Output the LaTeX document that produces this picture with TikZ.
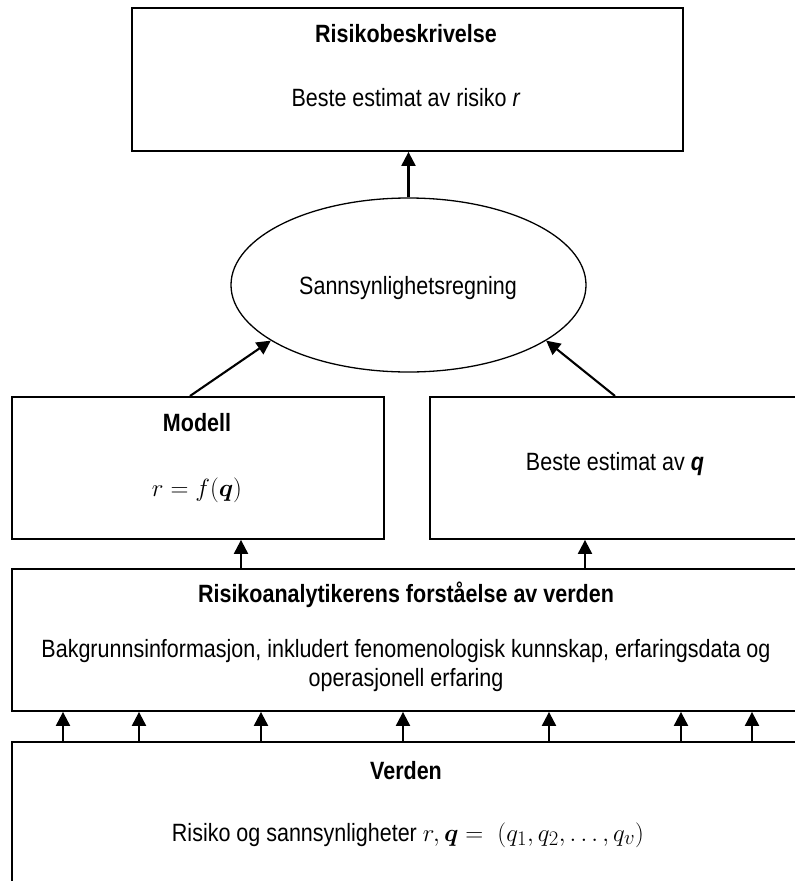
\documentclass[tikz,border=0pt]{standalone}
\usepackage{amsmath}
\usepackage[no-math]{fontspec}
\setmainfont{Liberation Sans}[FakeStretch=0.86]
\usetikzlibrary{arrows.meta,shapes.geometric}
\begin{document}
\begin{tikzpicture}[x=1pt,y=-1pt,
  box/.style={draw, line width=1.9pt, inner sep=0pt, anchor=north west},
  arr/.style={line width=2.1pt, -{Triangle[width=14pt,length=14pt]}},
  txt/.style={inner sep=0pt, anchor=base, font=\fontsize{25}{30}\selectfont},
  btxt/.style={txt, font=\fontsize{25}{30}\selectfont\bfseries},
  mth/.style={font=\fontsize{31}{34}\selectfont}
]
\useasboundingbox (0,0) rectangle (795,881);
\clip (0,0) rectangle (795,881);
% boxes
\node[box, minimum width=551pt, minimum height=143pt] (top) at (131,7) {};
\node[draw, ellipse, line width=1.3pt, inner sep=0pt, minimum width=355pt, minimum height=174pt] (ell) at (408.5,285) {};
\node[box, minimum width=372pt, minimum height=142pt] (modell) at (11,396) {};
\node[box, minimum width=372pt, minimum height=142pt] (est) at (429,396) {};
\node[box, minimum width=790pt, minimum height=142pt] (mid) at (11,568) {};
\node[box, minimum width=790pt, minimum height=180pt] (verden) at (11,741) {};
% texts
\node[btxt] (t1) at (406,42) {Risikobeskrivelse};
\node[txt] (t2) at (406,106) {Beste estimat av risiko \textit{r}};
\node[txt] (et) at (408,294) {Sannsynlighetsregning};
\node[btxt] (m1) at (197,431) {Modell};
\node[txt, mth] (m2) at (197,496) {$r=f(\boldsymbol{q})$};
\node[txt] (b1) at (615,470) {Beste estimat av \textbf{\textit{q}}};
\node[btxt] (k1) at (406,602) {Risikoanalytikerens forståelse av verden};
\node[txt] (k2) at (406,657) {Bakgrunnsinformasjon, inkludert fenomenologisk kunnskap, erfaringsdata og};
\node[txt] (k3) at (406,686) {operasjonell erfaring};
\node[btxt] (v1) at (406,779) {Verden};
\node[txt] (v2) at (408,841) {Risiko og sannsynligheter {\fontsize{30}{34}\selectfont$r,\boldsymbol{q}=\ (q_1,q_2,\ldots,q_v)$}};
% connectors
\draw[arr] (ell.north) -- (ell.north |- top.south);
\draw[arr] ([xshift=179pt]modell.north west) -- (ell.202.7);
\draw[arr] ([xshift=186pt]est.north west) -- (ell.338.1);
\draw[arr] ([xshift=230pt]mid.north west) -- ([xshift=230pt]modell.south west);
\draw[arr] ([xshift=574pt]mid.north west) -- ([xshift=156pt]est.south west);
\foreach \x in {63,139,261,403,549,681,752}
  \draw[arr] (\x,0 |- verden.north) -- (\x,0 |- mid.south);
\end{tikzpicture}
\end{document}
